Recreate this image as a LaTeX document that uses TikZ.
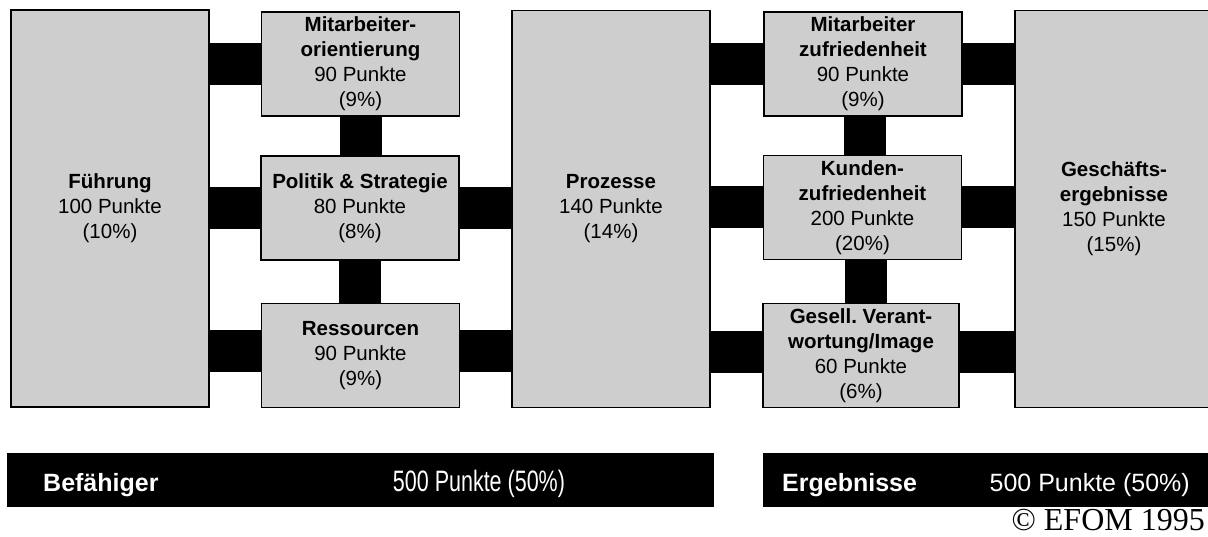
\documentclass[tikz,border=0pt]{standalone}
\usepackage{fontspec}
\setmainfont{Liberation Sans}
\newfontfamily\copyfont{Liberation Serif}
\definecolor{boxgray}{RGB}{206,206,206}

\begin{document}
\begin{tikzpicture}[x=1pt, y=-1pt,
  crit/.style={draw, line width=1.2pt, fill=boxgray, minimum width=198pt,
    minimum height=104pt, inner sep=0pt, align=center,
    font=\fontsize{20.5}{25}\selectfont},
  tall/.style={crit, minimum height=397pt},
  link/.style={line width=42pt, black},
  bar/.style={fill=black, minimum height=54pt, inner sep=0pt},
  bartext/.style={text=white, inner sep=0pt, font=\fontsize{25}{30}\selectfont}]
  \useasboundingbox (0,0) rectangle (1208,537);

  % Befaehiger
  \node[tall] (fu) at (110,208.5) {\textbf{Führung}\\100 Punkte\\(10\%)};
  \node[crit] (mo) at (360.5,64) {\textbf{Mitarbeiter-}\\\textbf{orientierung}\\90 Punkte\\(9\%)};
  \node[crit] (ps) at (360,208) {\textbf{Politik \& Strategie}\\80 Punkte\\(8\%)};
  \node[crit] (rs) at (360.5,355.5) {\textbf{Ressourcen}\\90 Punkte\\(9\%)};
  \node[tall] (pz) at (611,209) {\textbf{Prozesse}\\140 Punkte\\(14\%)};

  % Ergebnisse
  \node[crit] (mz) at (863,64) {\textbf{Mitarbeiter}\\\textbf{zufriedenheit}\\90 Punkte\\(9\%)};
  \node[crit] (kz) at (862.5,207.5) {\textbf{Kunden-}\\\textbf{zufriedenheit}\\200 Punkte\\(20\%)};
  \node[crit, minimum width=196pt] (gv) at (861,355.5) {\textbf{Gesell.\ Verant-}\\\textbf{wortung/Image}\\60 Punkte\\(6\%)};
  \node[tall] (ge) at (1114,209) {\textbf{Geschäfts-}\\\textbf{ergebnisse}\\150 Punkte\\(15\%)};

  % black links
  \draw[link] (mo.west) -- (mo.west -| fu.east);
  \draw[link] (ps.west) -- (ps.west -| fu.east);
  \draw[link] ([yshift=4]rs.west) -- ([yshift=4]rs.west -| fu.east);
  \draw[link] (mo.south) -- (mo.south |- ps.north);
  \draw[link] (ps.south) -- (ps.south |- rs.north);
  \draw[link] (ps.east) -- (ps.east -| pz.west);
  \draw[link] ([yshift=4]rs.east) -- ([yshift=4]rs.east -| pz.west);
  \draw[link] (mz.west) -- (mz.west -| pz.east);
  \draw[link] (kz.west) -- (kz.west -| pz.east);
  \draw[link] ([yshift=3]gv.west) -- ([yshift=3]gv.west -| pz.east);
  \draw[link] (mz.east) -- (mz.east -| ge.west);
  \draw[link] (kz.east) -- (kz.east -| ge.west);
  \draw[link] ([yshift=3]gv.east) -- ([yshift=3]gv.east -| ge.west);
  \draw[link] ([xshift=2]mz.south) -- ([xshift=2]mz.south |- kz.north);
  \draw[link] ([xshift=3]kz.south) -- ([xshift=3]kz.south |- gv.north);

  % bottom bars
  \node[bar, minimum width=707pt] (bf) at (360.5,480) {};
  \node[bar, minimum width=447pt] (eg) at (986.5,480) {};
  \node[bartext, anchor=base west, font=\fontsize{25}{30}\selectfont\bfseries] (bft) at (43,491) {Befähiger};
  \node[bartext, anchor=base] (bfp) at (479,491) {\scalebox{0.86}[1.18]{500 Punkte (50\%)}};
  \node[bartext, anchor=base west, font=\fontsize{25}{30}\selectfont\bfseries] (egt) at (782,491) {Ergebnisse};
  \node[bartext, anchor=base east] (egp) at (1190,491) {500 Punkte (50\%)};

  \node[anchor=base east, inner sep=0pt, font=\fontsize{32}{36}\copyfont] (cp) at (1205,530) {© EFOM 1995};
\end{tikzpicture}
\end{document}
